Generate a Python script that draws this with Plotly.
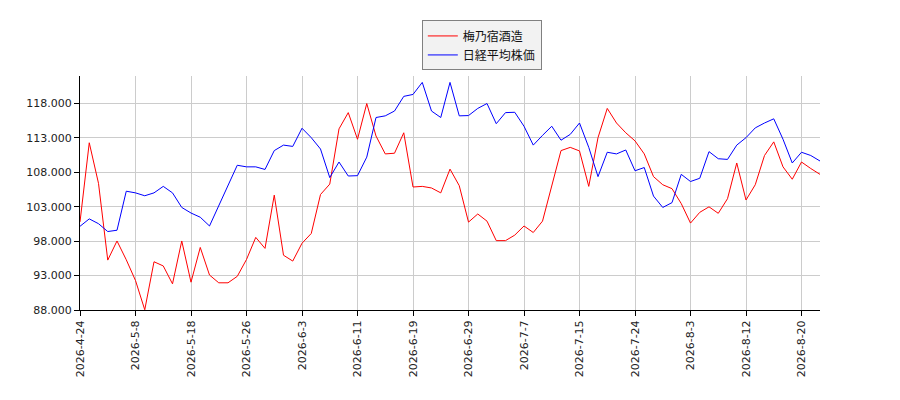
import plotly.graph_objects as go

# trading days shown on the x axis
dates = [
    "2026-4-24", "2026-4-27", "2026-4-28", "2026-4-30", "2026-5-1", "2026-5-7", "2026-5-8",
    "2026-5-11", "2026-5-12", "2026-5-13", "2026-5-14", "2026-5-15",
    "2026-5-18", "2026-5-19", "2026-5-20", "2026-5-21", "2026-5-22",
    "2026-5-25", "2026-5-26", "2026-5-27", "2026-5-28", "2026-5-29",
    "2026-6-1", "2026-6-2", "2026-6-3", "2026-6-4", "2026-6-5",
    "2026-6-8", "2026-6-9", "2026-6-10", "2026-6-11", "2026-6-12",
    "2026-6-15", "2026-6-16", "2026-6-17", "2026-6-18", "2026-6-19",
    "2026-6-22", "2026-6-23", "2026-6-24", "2026-6-25", "2026-6-26",
    "2026-6-29", "2026-6-30", "2026-7-1", "2026-7-2", "2026-7-3",
    "2026-7-6", "2026-7-7", "2026-7-8", "2026-7-9", "2026-7-10",
    "2026-7-13", "2026-7-14", "2026-7-15", "2026-7-16", "2026-7-17",
    "2026-7-21", "2026-7-22", "2026-7-23", "2026-7-24",
    "2026-7-27", "2026-7-28", "2026-7-29", "2026-7-30", "2026-7-31",
    "2026-8-3", "2026-8-4", "2026-8-5", "2026-8-6", "2026-8-7",
    "2026-8-10", "2026-8-12", "2026-8-13", "2026-8-14",
    "2026-8-17", "2026-8-18", "2026-8-19", "2026-8-20", "2026-8-21", "2026-8-24",
]

umenoyado = [
    100800, 112300, 106400, 95250, 98030, 95300, 92280, 88030, 95010, 94400,
    91800, 98030, 92040, 97090, 93080, 91950, 91950, 92890, 95340, 98550,
    96950, 104690, 95960, 95110, 97700, 99120, 104780, 106290, 114320, 116680,
    112810, 118000, 113280, 110680, 110780, 113750, 105870, 105960, 105730, 105020,
    108470, 106060, 100770, 101950, 100910, 98080, 98080, 98880, 100210, 99260,
    100910, 106200, 111160, 111630, 111110, 105960, 113040, 117290, 115170, 113750,
    112570, 110680, 107380, 106200, 105630, 103460, 100630, 102190, 102990, 102050,
    104170, 109360, 103980, 106200, 110450, 112430, 108800, 107000, 109500, 108560,
    107710,
]

nikkei = [
    100160, 101240, 100540, 99400, 99590, 105260, 105020, 104600, 105020, 105960,
    105020, 102900, 102090, 101480, 100210, 103130, 106060, 109030, 108800, 108800,
    108420, 111160, 111960, 111770, 114410, 113040, 111390, 107240, 109500, 107470,
    107520, 110210, 115970, 116210, 116910, 119040, 119320, 121070, 116910, 115970,
    121070, 116210, 116250, 117290, 118000, 115070, 116680, 116730, 114700, 111960,
    113370, 114700, 112670, 113520, 115170, 111630, 107380, 110920, 110680, 111250,
    108230, 108700, 104550, 102900, 103600, 107710, 106670, 107140, 111010, 109980,
    109880, 111960, 113040, 114460, 115170, 115780, 112810, 109360, 110920, 110450,
    109650,
]

tick_dates = dates[0:79:6]
y_ticks = [88000, 93000, 98000, 103000, 108000, 113000, 118000]

fig = go.Figure()
fig.add_trace(go.Scatter(x=dates, y=umenoyado, mode="lines", name="梅乃宿酒造",
                         line=dict(color="#ff0000", width=1)))
fig.add_trace(go.Scatter(x=dates, y=nikkei, mode="lines", name="日経平均株価",
                         line=dict(color="#0000ff", width=1)))

# the page body adds 8px, so margins are shifted to land the plot at 80..820 / 70..310
fig.update_layout(
    width=900, height=400,
    margin=dict(l=72, r=88, t=62, b=98),
    paper_bgcolor="white", plot_bgcolor="white",
    separators=",.",
    font=dict(family="DejaVu Sans, Noto Sans CJK JP", size=11, color="#222222"),
    showlegend=True,
    legend=dict(x=0.543, y=1.2375, xanchor="center", yanchor="top",
                bgcolor="#f2f2f2", bordercolor="#808080", borderwidth=1,
                font=dict(family="Noto Sans CJK JP", size=12, color="#111111"),
                tracegroupgap=0, itemwidth=30),
)
fig.update_xaxes(
    type="category", range=[0, len(dates) - 1], automargin=False,
    tickmode="array", tickvals=tick_dates, ticktext=tick_dates,
    tickangle=-90, ticks="outside", ticklen=5, tickcolor="black",
    showgrid=True, gridcolor="#cccccc", gridwidth=1,
    showline=True, linecolor="black", linewidth=1, zeroline=False,
)
fig.update_yaxes(
    range=[88000, 122000], automargin=False,
    tickmode="array", tickvals=y_ticks, tickformat=",d",
    ticks="outside", ticklen=5, tickcolor="black",
    showgrid=True, gridcolor="#cccccc", gridwidth=1,
    showline=True, linecolor="black", linewidth=1, zeroline=False,
)

fig.write_html("out.html")
